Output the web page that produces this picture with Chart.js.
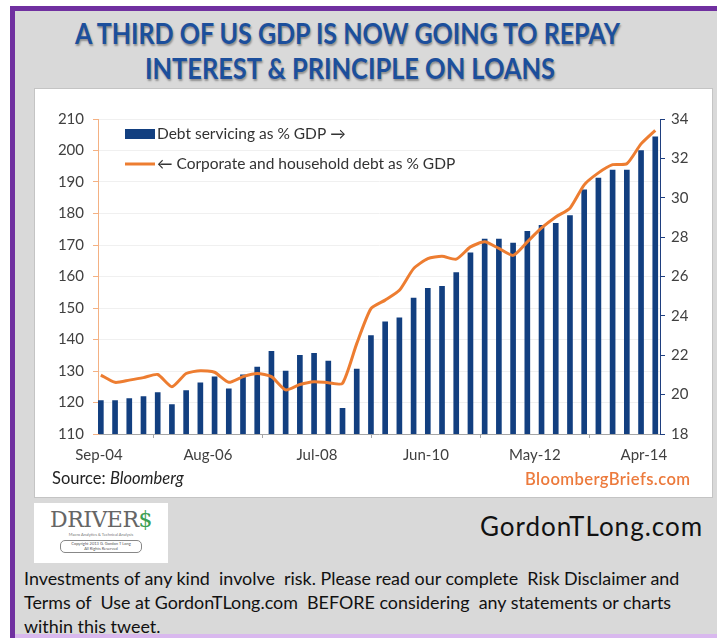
<!DOCTYPE html>
<html>
<head>
<meta charset="utf-8">
<script src="https://cdn.jsdelivr.net/npm/chart.js@4.4.0/dist/chart.umd.min.js"></script>
<style>
  html,body{margin:0;padding:0;}
  body{width:717px;height:638px;background:#fff;position:relative;overflow:hidden;font-family:Lato,"Open Sans",sans-serif;}
  #frame{position:absolute;left:10px;top:6px;width:720px;height:640px;background:#d9d9d9;border-left:5px solid #7030a0;border-top:5px solid #7030a0;box-sizing:border-box;}
  #bottomline{position:absolute;left:15px;top:634px;width:702px;height:4px;background:#d9b8ee;}
  .title{position:absolute;white-space:nowrap;font-family:Lato,sans-serif;font-weight:bold;font-size:28px;color:#1c4f9c;text-shadow:1px 2px 2px rgba(0,0,0,0.35);transform-origin:0 0;}
  #panel{position:absolute;left:34px;top:88px;width:679px;height:410px;background:#fff;border:1px solid #c4c4c4;box-sizing:border-box;}
  #cv{position:absolute;left:35px;top:88px;}
  .src{position:absolute;left:52px;top:468px;font-size:16.5px;color:#222;}
  .bb{position:absolute;left:525px;top:469px;font-size:16.6px;color:#ec7a3c;letter-spacing:0.4px;font-weight:600;}
  #logo{position:absolute;left:34px;top:503px;width:134px;height:60px;background:#fff;text-align:center;}
  #logo .d{font-family:"DejaVu Serif",serif;font-size:22px;color:#666;letter-spacing:-0.5px;margin-top:5px;line-height:24px;}
  #logo .d span{color:#3ca050;}
  #logo .sub{font-size:4px;color:#777;line-height:5px;}
  #logo .cp{margin:3px auto 0;width:80px;height:11px;border:1px solid #888;border-radius:5px;font-size:4px;line-height:5px;color:#555;}
  .gtl{position:absolute;left:480px;top:510px;font-size:26px;letter-spacing:1px;color:#111;}
  .disc{position:absolute;left:24px;top:566px;font-size:17.9px;line-height:24px;color:#111;white-space:pre;}
</style>
</head>
<body>
<div id="frame"></div>
<div id="bottomline"></div>
<div class="title" id="t1" style="top:16px;">A THIRD OF US GDP IS NOW GOING TO REPAY</div>
<div class="title" id="t2" style="top:51px;">INTEREST &amp; PRINCIPLE ON LOANS</div>
<div id="panel"></div>
<canvas id="cv" width="678" height="410"></canvas>
<div class="src">Source: <i>Bloomberg</i></div>
<div class="bb">BloombergBriefs.com</div>
<div id="logo"><div class="d">DRIVER<span>$</span></div><div class="sub">Macro Analytics &amp; Technical Analysis</div><div class="cp">Copyright 2013 G. Gordon T Long<br>All Rights Reserved</div></div>
<div class="gtl">GordonTLong.com</div>
<div class="disc">Investments of any kind  involve  risk. Please read our complete  Risk Disclaimer and
Terms of  Use at GordonTLong.com  BEFORE considering  any statements or charts
within this tweet.</div>
<script>
const quarters = ["Sep-04","Dec-04","Mar-05","Jun-05","Sep-05","Dec-05","Mar-06","Jun-06","Sep-06","Dec-06",
  "Mar-07","Jun-07","Sep-07","Dec-07","Mar-08","Jun-08","Sep-08","Dec-08","Mar-09","Jun-09",
  "Sep-09","Dec-09","Mar-10","Jun-10","Sep-10","Dec-10","Mar-11","Jun-11","Sep-11","Dec-11",
  "Mar-12","Jun-12","Sep-12","Dec-12","Mar-13","Jun-13","Sep-13","Dec-13","Mar-14","Jun-14"];
const debtServicing = [19.7,19.7,19.8,19.9,20.1,19.5,20.2,20.6,20.9,20.3,
  21.0,21.4,22.2,21.2,22.0,22.1,21.7,19.3,21.3,23.0,
  23.7,23.9,24.9,25.4,25.5,26.2,27.2,27.9,27.9,27.7,
  28.3,28.6,28.7,29.1,30.4,31.0,31.4,31.4,32.4,33.1];
const debtToGdp = [128.7,126.4,127.1,127.9,128.9,125.0,129.2,130.1,129.6,126.4,
  128.2,129.2,128.2,124.0,125.7,126.6,126.3,126.1,138.7,149.8,
  152.5,155.6,162.5,165.7,166.4,165.5,169.4,171.0,168.9,166.7,
  171.0,175.4,178.9,181.7,189.1,192.9,195.5,195.8,202.1,206.4];
const tickLabels = ["Sep-04","Aug-06","Jul-08","Jun-10","May-12","Apr-14"];
const tickMonths = [0,23,46,69,92,115];

// months since Sep-04 for each quarter
const monthOf = i => i*3 + 0.4;

// squeeze title lines to the reference width (condensed bold face)
function fitTitle(id, left, width){
  const el = document.getElementById(id);
  const w = el.getBoundingClientRect().width;
  el.style.left = left+"px";
  el.style.transform = "scaleX("+(width/w)+")";
}
fitTitle("t1", 75, 545);
fitTitle("t2", 145, 410);

const legendPlugin = {
  id:"inlineLegend",
  afterDraw(chart){
    const c = chart.ctx, a = chart.chartArea;
    const ds = chart.data.datasets;
    c.save();
    c.font = "15.5px Lato";
    c.textBaseline = "middle";
    let x = a.left + 27, y = a.top + 15;
    c.fillStyle = ds[0].backgroundColor;
    c.fillRect(x, y-5, 30, 10);
    c.fillStyle = "#333";
    c.fillText(ds[0].label, x+32, y);
    y = a.top + 45;
    c.strokeStyle = ds[1].borderColor; c.lineWidth = 3;
    c.beginPath(); c.moveTo(x, y); c.lineTo(x+30, y); c.stroke();
    c.fillText(ds[1].label, x+32, y);
    c.restore();
  }
};

new Chart(document.getElementById("cv"), {
  data:{
    datasets:[
      {type:"bar", label:"Debt servicing as % GDP \u2192", yAxisID:"y2", order:1,
        data: debtServicing.map((v,i)=>({x:monthOf(i), y:v})),
        backgroundColor:"#123f80", barThickness:5},
      {type:"line", label:"\u2190 Corporate and household debt as % GDP", yAxisID:"y", order:0,
        data: debtToGdp.map((v,i)=>({x:monthOf(i), y:v})),
        borderColor:"#ed7d31", borderWidth:3, pointRadius:0, tension:0.2, fill:false}
    ]
  },
  options:{
    responsive:false, animation:false,
    layout:{padding:{top:31, bottom:34, left:0, right:0}},
    plugins:{legend:{display:false}, tooltip:{enabled:false}},
    scales:{
      x:{type:"linear", offset:false, min:-0.2, max:118.4,
        afterBuildTicks:s=>{ s.ticks = tickMonths.map(v=>({value:v})); },
        afterFit:s=>{ s.height = 30; },
        ticks:{callback:v=>tickLabels[tickMonths.indexOf(v)], color:"#404040", font:{family:"Lato", size:15}, padding:8, maxRotation:0, autoSkip:false},
        grid:{drawOnChartArea:false, tickLength:4, tickColor:"#a6a6a6"},
        border:{color:"#a6a6a6"}},
      y:{position:"left", min:110, max:210,
        afterFit:s=>{ s.width = 63; },
        ticks:{stepSize:10, color:"#404040", font:{family:"Lato", size:15}, padding:9},
        grid:{color:"#f0f0f0", tickColor:"#f4b183", tickLength:5},
        border:{color:"#f4b183"}},
      y2:{position:"right", min:18, max:34,
        afterFit:s=>{ s.width = 53; },
        ticks:{stepSize:2, color:"#404040", font:{family:"Lato", size:15}, padding:6},
        grid:{drawOnChartArea:false, tickColor:"#1f3f7f", tickLength:5},
        border:{color:"#1f3f7f"}}
    }
  },
  plugins:[legendPlugin]
});
</script>
</body>
</html>
